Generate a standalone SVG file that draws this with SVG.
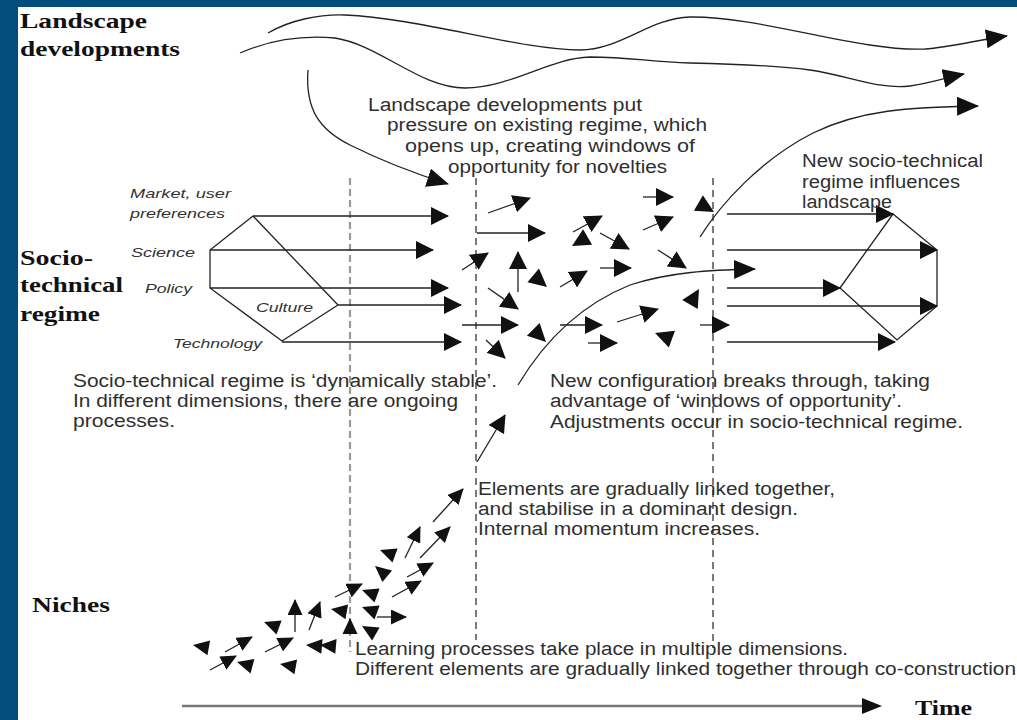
<svg xmlns="http://www.w3.org/2000/svg" width="1017" height="720" viewBox="0 0 1017 720">
<defs>
<marker id="ah" viewBox="0 0 18 18" refX="17" refY="9" markerWidth="18" markerHeight="18" markerUnits="userSpaceOnUse" orient="auto"><path d="M0,0 L18,9 L0,18 z" fill="#111"/></marker>
<marker id="ahL" viewBox="0 0 22 19" refX="21" refY="9.5" markerWidth="22" markerHeight="19" markerUnits="userSpaceOnUse" orient="auto"><path d="M0,0 L22,9.5 L0,19 z" fill="#111"/></marker>
<marker id="ahS" viewBox="0 0 16 15" refX="15" refY="7.5" markerWidth="16" markerHeight="15" markerUnits="userSpaceOnUse" orient="auto"><path d="M0,0 L16,7.5 L0,15 z" fill="#111"/></marker>
<path id="tri" d="M0,0 L-18,-9 L-18,9 Z" fill="#111"/>
<path id="triS" d="M0,0 L-16,-7.5 L-16,7.5 Z" fill="#111"/>
</defs>
<style>
.ln{stroke:#222;stroke-width:1.3;fill:none}
.a{stroke:#222;stroke-width:1.3;fill:none;marker-end:url(#ah)}
.as{stroke:#222;stroke-width:1.3;fill:none;marker-end:url(#ahS)}
.al{stroke:#222;stroke-width:1.3;fill:none;marker-end:url(#ahL)}
.h{font-family:"Liberation Serif","Times New Roman",serif;font-weight:bold;font-size:22px;fill:#111}
.t{font-family:"Liberation Sans",Arial,sans-serif;font-size:18px;fill:#2f2f2f}
.i{font-family:"Liberation Sans",Arial,sans-serif;font-size:13px;font-style:italic;fill:#333}
</style>
<rect x="0" y="0" width="1017" height="720" fill="#ffffff"/>
<rect x="0" y="0" width="18" height="720" fill="#024d7b"/>
<rect x="0" y="0" width="1017" height="7" fill="#024d7b"/>

<g id="titles">
<text class="h" x="20" y="28" textLength="127" lengthAdjust="spacingAndGlyphs">Landscape</text>
<text class="h" x="20" y="56" textLength="160" lengthAdjust="spacingAndGlyphs">developments</text>
<text class="h" x="20" y="265" textLength="73" lengthAdjust="spacingAndGlyphs">Socio-</text>
<text class="h" x="20" y="292" textLength="103" lengthAdjust="spacingAndGlyphs">technical</text>
<text class="h" x="20" y="321" textLength="80" lengthAdjust="spacingAndGlyphs">regime</text>
<text class="h" x="32" y="612" textLength="78" lengthAdjust="spacingAndGlyphs">Niches</text>
<text class="h" x="915" y="715" textLength="57" lengthAdjust="spacingAndGlyphs">Time</text>
</g>

<g id="dividers">
<line x1="350" y1="178" x2="350" y2="652" stroke="#9a9a9a" stroke-width="2.2" stroke-dasharray="7,4"/>
<line x1="476" y1="178" x2="476" y2="640" stroke="#222" stroke-width="1.2" stroke-dasharray="7,5"/>
<line x1="713" y1="178" x2="713" y2="648" stroke="#222" stroke-width="1.2" stroke-dasharray="7,5"/>
</g>

<g id="landscape">
<path class="al" d="M268,33 C290,20 320,14 345,15 C420,18 520,50 580,50 C620,50 650,18 690,17 C760,16 860,52 925,49 C950,47 978,40 1007,36"/>
<path class="al" d="M240,53 C270,40 300,35 335,38 C380,45 420,88 465,88 C510,88 550,58 590,57 C630,57 650,62 690,63 C740,64 780,66 810,70 C850,76 880,90 910,86 C930,83 945,78 964,74"/>
<path class="al" d="M308,70 C305,110 320,130 350,145 C380,160 410,172 448,184"/>
</g>

<g id="regime-old">
<text class="i" x="130" y="198" textLength="101" lengthAdjust="spacingAndGlyphs">Market, user</text>
<text class="i" x="130" y="218" textLength="95" lengthAdjust="spacingAndGlyphs">preferences</text>
<text class="i" x="131" y="257" textLength="64" lengthAdjust="spacingAndGlyphs">Science</text>
<text class="i" x="145" y="293" textLength="47" lengthAdjust="spacingAndGlyphs">Policy</text>
<text class="i" x="256" y="312" textLength="57" lengthAdjust="spacingAndGlyphs">Culture</text>
<text class="i" x="173" y="348" textLength="89" lengthAdjust="spacingAndGlyphs">Technology</text>
<polyline class="ln" points="253,216 210,250 210,288 282,341 338,305"/>
<line class="ln" x1="253" y1="216" x2="338" y2="305"/>
<line class="a" x1="253" y1="216" x2="448" y2="216"/>
<line class="a" x1="210" y1="250" x2="433" y2="250"/>
<line class="a" x1="210" y1="288" x2="448" y2="288"/>
<line class="a" x1="338" y1="305" x2="461" y2="305"/>
<line class="a" x1="282" y1="342" x2="461" y2="342"/>
</g>

<g id="regime-new">
<polyline class="ln" points="840,288 893,214 937,250 937,306 897,340 840,288"/>
<line class="a" x1="727" y1="214" x2="893" y2="214"/>
<line class="a" x1="727" y1="250" x2="937" y2="250"/>
<line class="a" x1="727" y1="288" x2="840" y2="288"/>
<line class="a" x1="727" y1="306" x2="937" y2="306"/>
<line class="a" x1="727" y1="342" x2="895" y2="342"/>
</g>

<g id="connectors">
<path class="al" d="M700,237 C720,205 760,160 813,133 C860,110 910,107 978,106"/>
<path class="al" d="M518,385 C545,340 580,305 630,285 C670,272 710,270 755,269"/>
<line class="a" x1="477" y1="462" x2="505" y2="415" stroke-width="2"/>
</g>

<g id="cluster">
<line class="a" x1="488" y1="213" x2="530" y2="198"/>
<line class="a" x1="477" y1="233" x2="545" y2="233"/>
<line class="a" x1="573" y1="232" x2="602" y2="216"/>
<line class="a" x1="600" y1="233" x2="629" y2="249"/>
<line class="a" x1="462" y1="270" x2="488" y2="253"/>
<line class="a" x1="518" y1="292" x2="518" y2="252"/>
<line class="a" x1="560" y1="287" x2="587" y2="271"/>
<line class="a" x1="600" y1="268" x2="631" y2="268"/>
<line class="a" x1="488" y1="288" x2="518" y2="309"/>
<line class="a" x1="462" y1="325" x2="518" y2="325"/>
<line class="a" x1="560" y1="325" x2="602" y2="325"/>
<line class="a" x1="588" y1="343" x2="617" y2="343"/>
<line class="a" x1="643" y1="197" x2="673" y2="197"/>
<line class="a" x1="643" y1="230" x2="673" y2="217"/>
<line class="a" x1="658" y1="250" x2="686" y2="268"/>
<line class="a" x1="617" y1="322" x2="658" y2="309"/>
<line class="a" x1="700" y1="325" x2="729" y2="325"/>
<line class="a" x1="486" y1="340" x2="505" y2="358"/>
<use href="#tri" transform="translate(572,246) rotate(150)"/>
<use href="#tri" transform="translate(547,287) rotate(40)"/>
<use href="#tri" transform="translate(546,342) rotate(45)"/>
<use href="#tri" transform="translate(714,212) rotate(30)"/>
<use href="#tri" transform="translate(699,289) rotate(-60)"/>
<use href="#tri" transform="translate(655,333) rotate(200)"/>
</g>

<g id="niches">
<line class="as" x1="225" y1="652" x2="252" y2="637"/>
<line class="as" x1="210" y1="670" x2="236" y2="656"/>
<line class="as" x1="265" y1="652" x2="293" y2="638"/>
<line class="as" x1="295" y1="632" x2="295" y2="600"/>
<line class="as" x1="309" y1="630" x2="320" y2="602"/>
<line class="as" x1="335" y1="597" x2="362" y2="584"/>
<line class="as" x1="433" y1="522" x2="463" y2="489"/>
<line class="as" x1="405" y1="558" x2="420" y2="527"/>
<line class="as" x1="420" y1="558" x2="450" y2="527"/>
<line class="as" x1="407" y1="577" x2="433" y2="563"/>
<line class="as" x1="392" y1="597" x2="421" y2="581"/>
<line class="as" x1="377" y1="617" x2="406" y2="617"/>
<use href="#triS" transform="translate(193,645) rotate(190)"/>
<use href="#triS" transform="translate(237,662) rotate(195)"/>
<use href="#triS" transform="translate(280,664) rotate(190)"/>
<use href="#triS" transform="translate(264,622) rotate(200)"/>
<use href="#triS" transform="translate(306,645) rotate(185)"/>
<use href="#triS" transform="translate(320,645) rotate(185)"/>
<use href="#triS" transform="translate(362,590) rotate(200)"/>
<use href="#triS" transform="translate(331,609) rotate(190)"/>
<use href="#triS" transform="translate(362,607) rotate(200)"/>
<use href="#triS" transform="translate(350,618) rotate(-90)"/>
<use href="#triS" transform="translate(362,626) rotate(210)"/>
<use href="#triS" transform="translate(380,550) rotate(200)"/>
<use href="#triS" transform="translate(375,566) rotate(220)"/>
</g>

<g id="time-axis">
<line x1="182" y1="706" x2="862" y2="706" stroke="#777" stroke-width="2.5"/>
<path d="M882,706 L862,698 L862,714 Z" fill="#111"/>
</g>

<g id="texts">
<text class="t" x="368" y="111" textLength="274" lengthAdjust="spacingAndGlyphs">Landscape developments put</text>
<text class="t" x="387" y="131" textLength="320" lengthAdjust="spacingAndGlyphs">pressure on existing regime, which</text>
<text class="t" x="405" y="152" textLength="290" lengthAdjust="spacingAndGlyphs">opens up, creating windows of</text>
<text class="t" x="448" y="173" textLength="219" lengthAdjust="spacingAndGlyphs">opportunity for novelties</text>
<text class="t" x="802" y="167" textLength="181" lengthAdjust="spacingAndGlyphs">New socio-technical</text>
<text class="t" x="802" y="188" textLength="158" lengthAdjust="spacingAndGlyphs">regime influences</text>
<text class="t" x="802" y="208" textLength="90" lengthAdjust="spacingAndGlyphs">landscape</text>
<text class="t" x="73" y="387" textLength="424" lengthAdjust="spacingAndGlyphs">Socio-technical regime is ‘dynamically stable’.</text>
<text class="t" x="73" y="407" textLength="385" lengthAdjust="spacingAndGlyphs">In different dimensions, there are ongoing</text>
<text class="t" x="73" y="427" textLength="102" lengthAdjust="spacingAndGlyphs">processes.</text>
<text class="t" x="550" y="387" textLength="380" lengthAdjust="spacingAndGlyphs">New configuration breaks through, taking</text>
<text class="t" x="550" y="407" textLength="352" lengthAdjust="spacingAndGlyphs">advantage of ‘windows of opportunity’.</text>
<text class="t" x="550" y="428" textLength="413" lengthAdjust="spacingAndGlyphs">Adjustments occur in socio-technical regime.</text>
<text class="t" x="478" y="495" textLength="357" lengthAdjust="spacingAndGlyphs">Elements are gradually linked together,</text>
<text class="t" x="478" y="515" textLength="320" lengthAdjust="spacingAndGlyphs">and stabilise in a dominant design.</text>
<text class="t" x="478" y="535" textLength="282" lengthAdjust="spacingAndGlyphs">Internal momentum increases.</text>
<text class="t" x="355" y="655" textLength="493" lengthAdjust="spacingAndGlyphs">Learning processes take place in multiple dimensions.</text>
<text class="t" x="355" y="675" textLength="661" lengthAdjust="spacingAndGlyphs">Different elements are gradually linked together through co-construction</text>
</g>
</svg>
